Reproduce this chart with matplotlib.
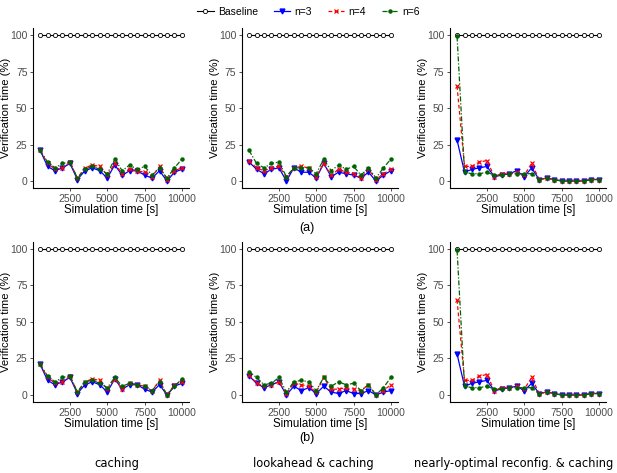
import numpy as np
import matplotlib
matplotlib.use('Agg')
import matplotlib.pyplot as plt

plt.rcParams['font.family'] = ['Liberation Sans', 'DejaVu Sans']

# simulation times
sim_time = [500, 1000, 1500, 2000, 2500, 3000, 3500, 4000, 4500, 5000,
            5500, 6000, 6500, 7000, 7500, 8000, 8500, 9000, 9500, 10000]
baseline = [100] * 20

# (a) caching
a_cach_n3 = [21, 10, 7, 9, 12, 1, 7, 9, 7, 2, 11, 4, 7, 7, 4, 2, 7, 0, 6, 8]
a_cach_n4 = [21, 12, 8, 9, 13, 2, 9, 11, 10, 4, 12, 5, 8, 7, 6, 3, 10, 1, 7, 9]
a_cach_n6 = [21, 13, 9, 12, 13, 2, 8, 10, 8, 5, 15, 7, 11, 8, 10, 4, 9, 2, 9, 15]
# (a) lookahead & caching
a_look_n3 = [13, 8, 5, 8, 9, 0, 9, 6, 6, 2, 12, 3, 6, 5, 4, 2, 6, 0, 4, 7]
a_look_n4 = [14, 9, 7, 9, 10, 3, 9, 10, 9, 3, 12, 4, 8, 6, 5, 2, 8, 1, 5, 8]
a_look_n6 = [21, 12, 9, 12, 13, 3, 9, 9, 9, 5, 15, 7, 11, 8, 10, 4, 9, 2, 9, 15]
# (a) nearly-optimal reconfig. & caching
a_opt_n3 = [28, 6, 8, 9, 10, 3, 4, 5, 7, 3, 9, 1, 2, 1, 0, 0, 0, 0, 1, 1]
a_opt_n4 = [65, 10, 10, 13, 14, 3, 5, 5, 6, 4, 12, 1, 2, 1, 0, 0, 0, 0, 1, 1]
a_opt_n6 = [99, 6, 5, 5, 6, 4, 4, 5, 5, 5, 5, 1, 2, 1, 0, 0, 0, 0, 1, 1]

# (b) caching
b_cach_n3 = [21, 10, 7, 9, 12, 1, 7, 9, 7, 2, 11, 4, 7, 7, 4, 2, 7, 0, 6, 8]
b_cach_n4 = [21, 12, 8, 9, 13, 2, 9, 11, 10, 4, 11, 4, 8, 7, 6, 3, 10, 0, 7, 9]
b_cach_n6 = [21, 13, 9, 12, 13, 2, 9, 10, 8, 5, 12, 6, 8, 7, 6, 3, 9, 0, 6, 11]
# (b) lookahead & caching
b_look_n3 = [13, 8, 5, 7, 9, 0, 6, 3, 5, 1, 6, 2, 1, 3, 1, 1, 3, 0, 2, 3]
b_look_n4 = [14, 8, 6, 7, 9, 1, 8, 7, 6, 2, 12, 4, 4, 5, 4, 3, 7, 0, 3, 7]
b_look_n6 = [16, 12, 7, 8, 12, 2, 9, 10, 9, 3, 12, 6, 9, 7, 8, 3, 7, 0, 5, 12]
# (b) nearly-optimal reconfig. & caching
b_opt_n3 = [28, 6, 8, 9, 10, 3, 4, 5, 6, 3, 8, 1, 2, 1, 0, 0, 0, 0, 1, 1]
b_opt_n4 = [65, 10, 10, 13, 14, 3, 5, 5, 6, 4, 12, 1, 2, 1, 0, 0, 0, 0, 1, 1]
b_opt_n6 = [99, 6, 5, 5, 6, 4, 4, 5, 5, 5, 5, 1, 2, 1, 0, 0, 0, 0, 1, 1]

panels = [
    [(a_cach_n3, a_cach_n4, a_cach_n6), (a_look_n3, a_look_n4, a_look_n6), (a_opt_n3, a_opt_n4, a_opt_n6)],
    [(b_cach_n3, b_cach_n4, b_cach_n6), (b_look_n3, b_look_n4, b_look_n6), (b_opt_n3, b_opt_n4, b_opt_n6)],
]

col_titles = ['caching', 'lookahead & caching', 'nearly-optimal reconfig. & caching']
row_labels = ['(a)', '(b)']

fig = plt.figure(figsize=(6.17, 4.73), dpi=100)

lefts = [0.0535, 0.3922, 0.7293]
bottoms = [0.6019, 0.1495]
w, h = 0.2528, 0.3395

handles = None
for r in range(2):
    for c in range(3):
        ax = fig.add_axes([lefts[c], bottoms[r], w, h])
        n3, n4, n6 = panels[r][c]
        l0, = ax.plot(sim_time, baseline, color='black', lw=0.8, marker='o',
                      markersize=3, markerfacecolor='white', markeredgewidth=0.6, label='Baseline')
        l1, = ax.plot(sim_time, n3, color='blue', lw=0.9, marker='v',
                      markersize=3.5, label='n=3')
        l2, = ax.plot(sim_time, n4, color='red', lw=0.9, ls=(0, (3, 2)), marker='x',
                      markersize=3.5, markeredgewidth=0.9, label='n=4')
        l3, = ax.plot(sim_time, n6, color='darkgreen', lw=0.9, ls=(0, (4, 1.5, 1, 1.5)), marker='o',
                      markersize=2.2, label='n=6')
        handles = [l0, l1, l2, l3]
        ax.set_xlim(25, 10475)
        ax.set_ylim(-5, 105)
        ax.set_xticks([2500, 5000, 7500, 10000])
        ax.set_yticks([0, 25, 50, 75, 100])
        for s in ['top', 'right']:
            ax.spines[s].set_visible(False)
        for s in ['left', 'bottom']:
            ax.spines[s].set_linewidth(0.8)
        ax.tick_params(labelsize=7.5, length=2.5, width=0.6, colors='#333333', labelcolor='#4D4D4D', pad=1.5)
        ax.set_xlabel('Simulation time [s]', fontsize=8.3, labelpad=0)
        ax.set_ylabel('Verification time (%)', fontsize=8.1)
        ax.yaxis.set_label_coords(-0.14, 0.5)

fig.legend(handles, ['Baseline', 'n=3', 'n=4', 'n=6'], loc='center', bbox_to_anchor=(0.5, 0.975),
           ncol=4, frameon=False, fontsize=7.5, handlelength=1.6, columnspacing=1.5, handletextpad=0.4)

fig.text(0.497, 0.518, row_labels[0], ha='center', va='center', fontsize=9)
fig.text(0.497, 0.074, row_labels[1], ha='center', va='center', fontsize=9)

title_x = [0.19, 0.507, 0.832]
for x, t in zip(title_x, col_titles):
    fig.text(x, 0.021, t, ha='center', va='center', fontsize=8.3, family='DejaVu Sans')

fig.savefig('out.png', dpi=100)
